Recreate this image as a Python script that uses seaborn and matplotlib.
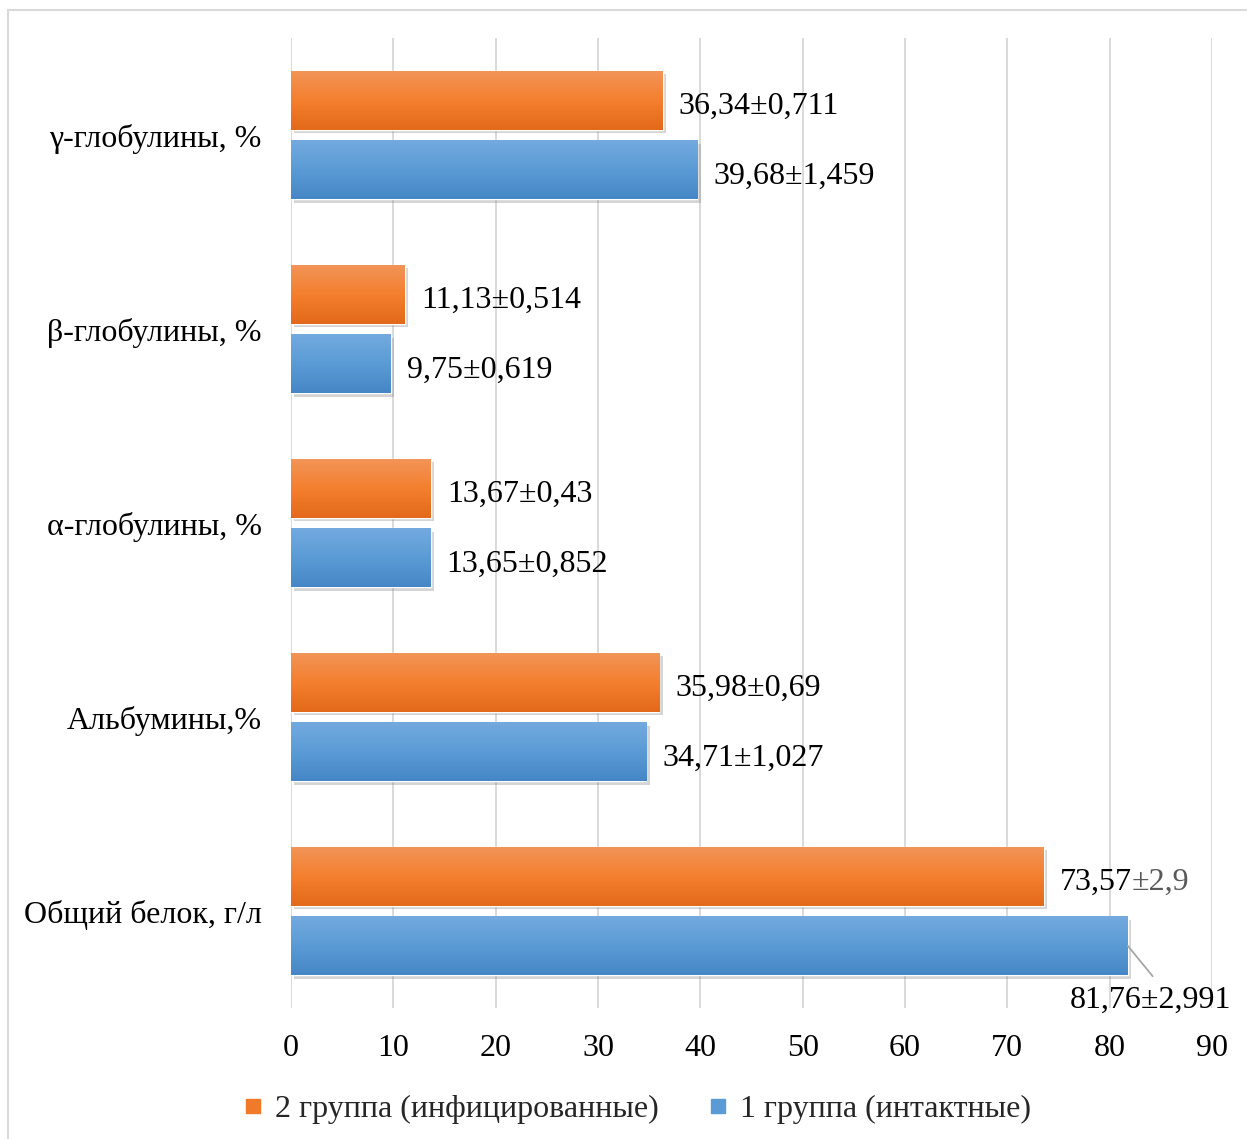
import numpy as np
import pandas as pd
import matplotlib
matplotlib.use("Agg")
import matplotlib.pyplot as plt
import matplotlib.patheffects as pe
from matplotlib.colors import LinearSegmentedColormap
from matplotlib.lines import Line2D
from matplotlib.patches import Rectangle
import seaborn as sns

# Blood serum protein fractions by group
categories = ["γ-глобулины, %", "β-глобулины, %", "α-глобулины, %",
              "Альбумины,%", "Общий белок, г/л"]
groups = ["2 группа (инфицированные)", "1 группа (интактные)"]
infected = [36.34, 11.13, 13.67, 35.98, 73.57]
intact = [39.68, 9.75, 13.65, 34.71, 81.76]
infected_err = ["0,711", "0,514", "0,43", "0,69", "2,9"]
intact_err = ["1,459", "0,619", "0,852", "1,027", "2,991"]
x_ticks = [0, 10, 20, 30, 40, 50, 60, 70, 80, 90]

sns.set_theme(style="white")
plt.rcParams["font.family"] = ["Liberation Serif", "DejaVu Serif"]
FS = 23

W, H = 1247, 1139
fig = plt.figure(figsize=(W / 100, H / 100), dpi=100)
ax = fig.add_axes([291 / W, 1 - 1008 / H, (1212 - 291) / W, (1008 - 38) / H])

df = pd.DataFrame({
    "category": categories * 2,
    "group": [groups[0]] * 5 + [groups[1]] * 5,
    "value": infected + intact,
})

orange_mid = "#F27E30"
blue_mid = "#5B9BD5"
sns.barplot(data=df, y="category", x="value", hue="group", hue_order=groups,
            order=categories, orient="h", palette=[orange_mid, blue_mid],
            width=0.715, gap=0.15, errorbar=None, ax=ax, legend=False)

gradients = [
    LinearSegmentedColormap.from_list("og", ["#F29458", "#F47F2E", "#E2691A"]),
    LinearSegmentedColormap.from_list("bg", ["#73AADF", "#5B9BD5", "#4586C6"]),
]
grad = np.linspace(0, 1, 256).reshape(-1, 1)
shadow = [pe.SimplePatchShadow(offset=(2.5, -2.5), shadow_rgbFace="#777777", alpha=0.3),
          pe.Normal()]

for container, cmap in zip(ax.containers, gradients):
    for bar in container:
        bar.set_path_effects(shadow)
        x0, y0 = bar.get_x(), bar.get_y()
        x1, y1 = x0 + bar.get_width(), y0 + bar.get_height()
        im = ax.imshow(grad, cmap=cmap, aspect="auto", origin="upper",
                       extent=(x0, x1, y1, y0), zorder=bar.get_zorder() + 0.1,
                       interpolation="bilinear")
        im.set_clip_path(bar)

ax.set_xlim(0, 90)
ax.set_ylim(4.5, -0.5)
ax.set_xticks(x_ticks)
ax.set_xticklabels([str(t) for t in x_ticks])
ax.set_xlabel("")
ax.set_ylabel("")
for s in ax.spines.values():
    s.set_visible(False)
ax.grid(axis="x", color="#D9D9D9", linewidth=1.4)
ax.grid(axis="y", visible=False)
ax.set_axisbelow(True)
ax.tick_params(axis="both", length=0, labelsize=FS, colors="black")
ax.tick_params(axis="y", pad=21)
ax.tick_params(axis="x", pad=18.5)

LBL_DY = -4.5  # nudge labels slightly below the bar centre line

def bar_center(container_idx, i):
    b = ax.containers[container_idx][i]
    return b.get_y() + b.get_height() / 2

def fmt(v):
    return f"{v:.2f}".replace(".", ",")

for i in range(len(categories)):
    yc = bar_center(0, i)
    if i == 4:
        t = ax.annotate(fmt(infected[i]), xy=(infected[i], yc),
                        xytext=(11.5, LBL_DY), textcoords="offset points",
                        ha="left", va="center", fontsize=FS, color="black")
        ax.annotate(f"±{infected_err[i]}", xy=(1, 0.5), xycoords=t,
                    ha="left", va="center", fontsize=FS, color="#595959")
    else:
        ax.annotate(fmt(infected[i]) + f"±{infected_err[i]}",
                    xy=(infected[i], yc), xytext=(11.5, LBL_DY), textcoords="offset points",
                    ha="left", va="center", fontsize=FS, color="black")

for i in range(len(categories)):
    yc = bar_center(1, i)
    label = fmt(intact[i]) + f"±{intact_err[i]}"
    if i == 4:
        ax.annotate("", xy=(intact[i], yc), xytext=(18, -22), textcoords="offset points",
                    arrowprops=dict(arrowstyle="-", color="#A6A6A6", lw=1.3,
                                    shrinkA=0, shrinkB=0))
        ax.annotate(label, xy=(intact[i], yc), xytext=(16.5, -39),
                    textcoords="offset points", ha="center", va="center",
                    fontsize=FS, color="black")
    else:
        ax.annotate(label, xy=(intact[i], yc), xytext=(11.5, LBL_DY),
                    textcoords="offset points", ha="left", va="center",
                    fontsize=FS, color="black")

# Legend below the plot
handles = [Line2D([], [], marker="s", linestyle="", markersize=10,
                  markerfacecolor=c, markeredgecolor=c) for c in ["#F07A2A", "#5B9BD5"]]
fig.legend(handles, groups, loc="center", bbox_to_anchor=(638 / W, 1 - 1109 / H),
           ncol=2, frameon=False, fontsize=FS, handlelength=0.5, handletextpad=0.45,
           columnspacing=1.6)

# Outer chart frame
fig.add_artist(Rectangle((8 / W, -0.05), 1.2, 1.05 - 10 / H, transform=fig.transFigure,
                         fill=False, edgecolor="#D9D9D9", linewidth=1.5, clip_on=False))

fig.savefig("out.png", dpi=100)
